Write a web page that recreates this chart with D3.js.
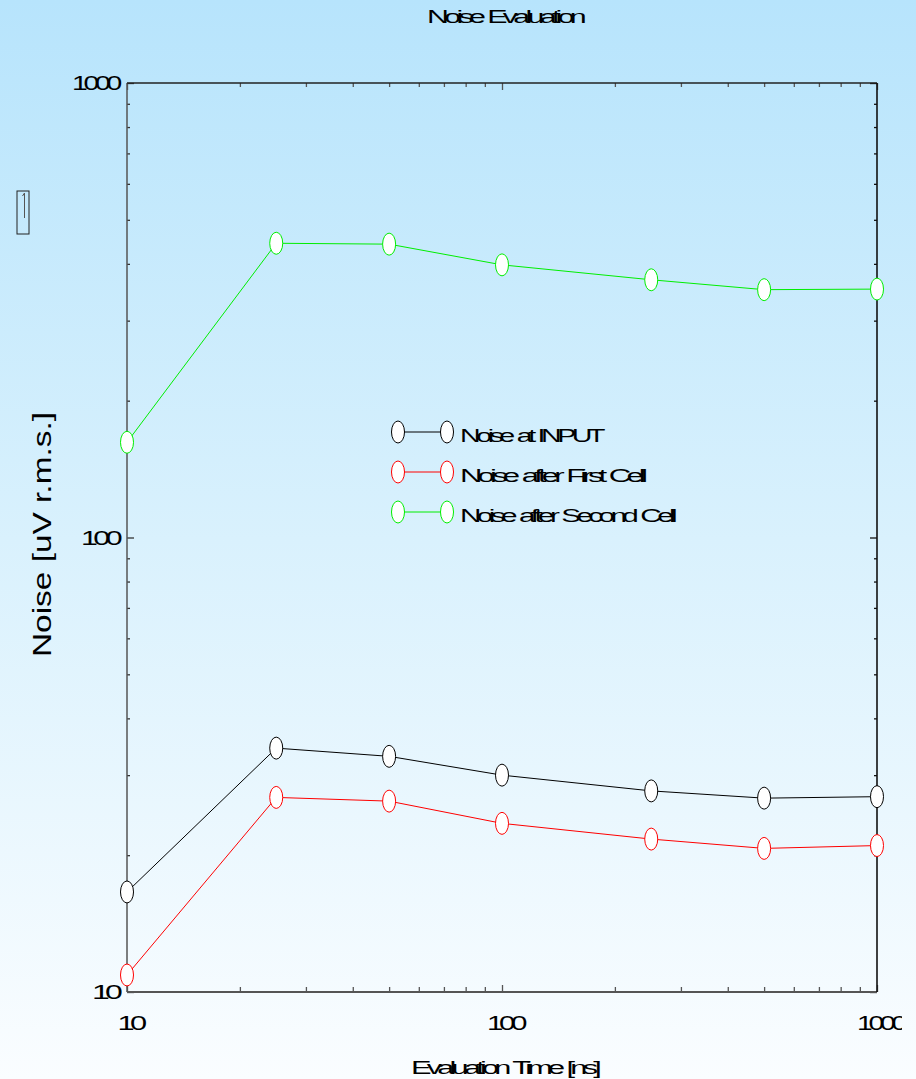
<!DOCTYPE html>
<html>
<head>
<meta charset="utf-8">
<script src="https://cdn.jsdelivr.net/npm/d3@7"></script>
<style>
  html, body { margin: 0; padding: 0; }
  body { width: 916px; height: 1079px; overflow: hidden; }
  text { font-family: "Liberation Sans", Arial, sans-serif; fill: #000; }
</style>
</head>
<body>
<svg id="chart" width="916" height="1079"></svg>
<script>
// Evaluation times [ns]
const evalTimes = [10, 25, 50, 100, 250, 500, 1000];
// Noise levels [uV r.m.s.]
const noiseInput = [16.6, 34.4, 33.0, 30.0, 27.7, 26.7, 26.9];
const noiseFirstCell = [10.9, 26.8, 26.3, 23.5, 21.7, 20.7, 21.0];
const noiseSecondCell = [162, 444, 442, 398, 369, 351, 352];

const seriesNames = ["Noise at INPUT", "Noise after First Cell", "Noise after Second Cell"];
const seriesColors = ["#000000", "#ff0000", "#00ee00"];
const seriesValues = [noiseInput, noiseFirstCell, noiseSecondCell];

const xTickLabels = ["10", "100", "1000"];
const yTickLabels = ["10", "100", "1000"];

const svg = d3.select("#chart");
const W = 916, H = 1079;

// background gradient
const defs = svg.append("defs");
const grad = defs.append("linearGradient").attr("id", "bg")
  .attr("x1", 0).attr("y1", 0).attr("x2", 0).attr("y2", 1);
grad.append("stop").attr("offset", "0%").attr("stop-color", "#b7e4fc");
grad.append("stop").attr("offset", "50%").attr("stop-color", "#d9f1fd");
grad.append("stop").attr("offset", "100%").attr("stop-color", "#fafdff");
svg.append("rect").attr("width", W).attr("height", H).attr("fill", "url(#bg)");

defs.append("clipPath").attr("id", "edgeClip")
  .append("rect").attr("x", 0).attr("y", 0).attr("width", 902).attr("height", H);

const plotLeft = 127, plotRight = 877, plotTop = 83, plotBottom = 992;
const x = d3.scaleLog().domain([10, 1000]).range([plotLeft, plotRight]);
const y = d3.scaleLog().domain([10, 1000]).range([plotBottom, plotTop]);

const yMajor = yTickLabels.map(Number);
const yMinor = y.ticks().filter(v => !yMajor.includes(v));
const xMajor = xTickLabels.map(Number);
const xMinor = x.ticks().filter(v => !xMajor.includes(v));

function tickAxis(axisFn, scale, values, size, tx, ty, color) {
  const g = svg.append("g").attr("transform", `translate(${tx},${ty})`)
    .call(axisFn(scale).tickValues(values).tickSize(size).tickFormat(""));
  g.select(".domain").remove();
  g.selectAll(".tick line").attr("stroke", color).attr("stroke-width", 1.3);
  return g;
}

// ticks point inward on all four sides
tickAxis(d3.axisLeft, y, yMinor, -3, plotLeft, 0, "#333");
tickAxis(d3.axisLeft, y, yMajor, -7, plotLeft, 0, "#333");
tickAxis(d3.axisRight, y, yMinor, -3, plotRight, 0, "#111");
tickAxis(d3.axisRight, y, yMajor, -7, plotRight, 0, "#111");
tickAxis(d3.axisBottom, x, xMinor, -5, 0, plotBottom, "#555");
tickAxis(d3.axisBottom, x, xMajor, -7, 0, plotBottom, "#555");
tickAxis(d3.axisTop, x, xMinor, -4, 0, plotTop, "#555");
tickAxis(d3.axisTop, x, xMajor, -7, 0, plotTop, "#555");

// frame
svg.append("line").attr("x1", plotLeft).attr("x2", plotLeft).attr("y1", plotTop).attr("y2", plotBottom)
  .attr("stroke", "#555").attr("stroke-width", 1.5);
svg.append("line").attr("x1", plotLeft).attr("x2", plotRight).attr("y1", plotBottom).attr("y2", plotBottom)
  .attr("stroke", "#555").attr("stroke-width", 2);
svg.append("line").attr("x1", plotLeft).attr("x2", plotRight).attr("y1", plotTop).attr("y2", plotTop)
  .attr("stroke", "#222").attr("stroke-width", 1.6);
svg.append("line").attr("x1", plotRight).attr("x2", plotRight).attr("y1", plotTop).attr("y2", plotBottom)
  .attr("stroke", "#111").attr("stroke-width", 1.6);

// condensed text helper: glyphs overlap, word gaps kept, run stretched to its length
function squeezed(parent, str, px, py, size, len, anchor, spacing) {
  return parent.append("text").attr("x", px).attr("y", py)
    .attr("font-size", size)
    .attr("letter-spacing", (spacing || -2.8) + "px")
    .attr("word-spacing", "1.5px")
    .attr("text-anchor", anchor || "start")
    .attr("textLength", len).attr("lengthAdjust", "spacingAndGlyphs")
    .text(str);
}

// y tick labels
const yLabelLen = { "10": 26, "100": 37, "1000": 46 };
yTickLabels.forEach(t => {
  squeezed(svg, t, 118, y(+t) + 7, 20, yLabelLen[t], "end", -3);
});
// x tick labels
const xLabelLen = { "10": 25, "100": 36, "1000": 46 };
const xLabelG = svg.append("g").attr("clip-path", "url(#edgeClip)");
xTickLabels.forEach(t => {
  squeezed(xLabelG, t, x(+t) + 3, 1030, 20, xLabelLen[t], "middle", -3);
});

// title and axis titles
squeezed(svg, "Noise Evaluation", 427, 23, 18, 155, "start");
squeezed(svg, "Evaluation Time [ns]", 411, 1074, 18, 186, "start");
svg.append("text")
  .attr("transform", "translate(51,657) rotate(-90)")
  .attr("font-size", 25)
  .attr("textLength", 245).attr("lengthAdjust", "spacingAndGlyphs")
  .text("Noise [uV r.m.s.]");

// small box at left margin
svg.append("rect").attr("x", 17).attr("y", 191).attr("width", 12).attr("height", 43)
  .attr("fill", "none").attr("stroke", "#222").attr("stroke-width", 1);
svg.append("path").attr("d", "M24.5,193 L24.5,218 M22.5,196 L24.5,193")
  .attr("fill", "none").attr("stroke", "#555").attr("stroke-width", 1);

// series lines and markers
const line = d3.line().x(d => x(d[0])).y(d => y(d[1]));
seriesValues.forEach((vals, i) => {
  const pts = evalTimes.map((t, j) => [t, vals[j]]);
  svg.append("path").datum(pts).attr("d", line)
    .attr("fill", "none").attr("stroke", seriesColors[i]).attr("stroke-width", 1);
  svg.append("g").selectAll("ellipse").data(pts).join("ellipse")
    .attr("cx", d => x(d[0])).attr("cy", d => y(d[1]))
    .attr("rx", 6.5).attr("ry", 11)
    .attr("fill", "#ffffff").attr("stroke", seriesColors[i]).attr("stroke-width", 1);
});

// legend
const legendRows = [432, 472, 512];
const legendLen = [141, 183, 213];
seriesNames.forEach((name, i) => {
  const ly = legendRows[i];
  svg.append("line").attr("x1", 398).attr("x2", 447).attr("y1", ly).attr("y2", ly)
    .attr("stroke", seriesColors[i]).attr("stroke-width", 1);
  [398, 447].forEach(cx => {
    svg.append("ellipse").attr("cx", cx).attr("cy", ly).attr("rx", 6.5).attr("ry", 11)
      .attr("fill", "#ffffff").attr("stroke", seriesColors[i]).attr("stroke-width", 1);
  });
  squeezed(svg, name, 460, ly + 10, 18, legendLen[i], "start");
});
</script>
</body>
</html>
